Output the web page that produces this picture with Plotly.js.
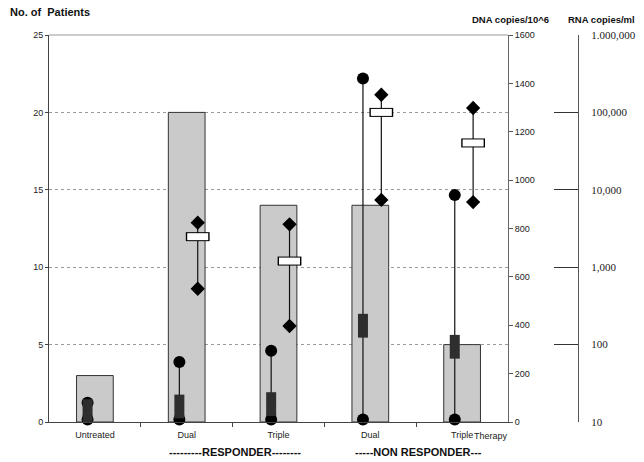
<!DOCTYPE html>
<html>
<head>
<meta charset="utf-8">
<script src="https://cdn.plot.ly/plotly-3.0.1.min.js"></script>
<style>
  html, body { margin: 0; padding: 0; background: #fff; }
  #chart { width: 644px; height: 462px; }
</style>
</head>
<body>
<div id="chart"></div>
<script>
(function () {
  'use strict';

  // --- Datos ---
  const categories = ['Untreated', 'Dual', 'Triple', 'Dual', 'Triple'];
  const patients   = [3, 20, 14, 14, 5];

  // DNA copies/10^6 (eje derecho lineal)
  const dnaMin    = [10, 10, 10, 10, 10];
  const dnaMax    = [80, 248, 295, 1420, 938];
  const dnaMedian = [45, 64, 74, 398, 311];

  // RNA copies/ml (eje log)
  const rnaMin    = [null, 527, 174, 7400, 6950];
  const rnaMax    = [null, 3760, 3580, 169000, 114000];
  const rnaMedian = [null, 2480, 1200, 100000, 40300];

  const rnaTickVals = [10, 100, 1000, 10000, 100000, 1000000];
  const rnaTickText = ['10', '100', '1,000', '10,000', '100,000', '1.000,000'];

  // --- Estilo ---
  const SANS = 'Liberation Sans';
  const SERIF = 'Liberation Serif';
  const DX_DNA = -0.08;   // desplazamiento de círculos/cuadros respecto a la barra
  const DX_RNA = 0.12;    // desplazamiento de rombos/óvalos
  const idx = categories.map((_, i) => i);

  // segmentos verticales min-max (con null como separador)
  function segments(dx, lo, hi) {
    const xs = [], ys = [];
    idx.forEach(i => {
      if (lo[i] == null || hi[i] == null) return;
      xs.push(i + dx, i + dx, null);
      ys.push(lo[i], hi[i], null);
    });
    return { xs, ys };
  }
  const dnaSeg = segments(DX_DNA, dnaMin, dnaMax);
  const rnaSeg = segments(DX_RNA, rnaMin, rnaMax);

  const traces = [
    {
      type: 'bar', x: idx, y: patients, width: 0.4,
      marker: { color: '#cacaca', line: { color: '#333', width: 1 } },
      hoverinfo: 'y'
    },
    // DNA: línea + círculos
    {
      type: 'scatter', mode: 'lines+markers', yaxis: 'y2',
      x: dnaSeg.xs, y: dnaSeg.ys, cliponaxis: false,
      line: { color: '#111', width: 1.2 },
      marker: { symbol: 'circle', size: 12, color: '#000' }
    },
    // DNA mediana: rectángulo oscuro
    {
      type: 'scatter', mode: 'markers', yaxis: 'y2', cliponaxis: false,
      x: idx.map(i => i + DX_DNA), y: dnaMedian,
      marker: { symbol: 'line-ns', size: 17, color: '#2e2e2e', line: { color: '#2e2e2e', width: 10 } }
    },
    // RNA: línea + rombos
    {
      type: 'scatter', mode: 'lines+markers', yaxis: 'y3',
      x: rnaSeg.xs, y: rnaSeg.ys, cliponaxis: false,
      line: { color: '#111', width: 1.2 },
      marker: { symbol: 'diamond', size: 11, color: '#000' }
    },
    // RNA mediana: óvalo blanco con borde
    {
      type: 'scatter', mode: 'markers', yaxis: 'y3', cliponaxis: false,
      x: idx.map(i => i + DX_RNA), y: rnaMedian,
      marker: { symbol: 'line-ew', size: 17, color: '#000', line: { color: '#000', width: 9 } }
    },
    {
      type: 'scatter', mode: 'markers', yaxis: 'y3', cliponaxis: false,
      x: idx.map(i => i + DX_RNA), y: rnaMedian,
      marker: { symbol: 'line-ew', size: 15, color: '#fff', line: { color: '#fff', width: 7 } }
    }
  ];

  const XD = 459 / 551;   // dominio del eje x dentro del área

  const layout = {
    width: 644, height: 462,
    margin: { l: 49, r: 44, t: 35, b: 40 },
    paper_bgcolor: '#fff', plot_bgcolor: '#fff',
    showlegend: false,
    font: { family: SANS, size: 9, color: '#222' },
    xaxis: {
      domain: [0, XD],
      range: [-0.5, 4.5],
      tickmode: 'array', tickvals: idx, ticktext: categories,
      ticks: '', showgrid: false, zeroline: false,
      showline: true, linecolor: '#444', linewidth: 1,
      ticklabelstandoff: 4,
      tickfont: { family: SANS, size: 9, color: '#222' },
      minor: { tickmode: 'array', tickvals: [0.5, 1.5, 2.5, 3.5], ticks: 'outside', ticklen: 4, tickcolor: '#444', showgrid: false }
    },
    yaxis: {
      range: [0, 25], dtick: 5,
      ticks: 'outside', ticklen: 3, tickcolor: '#444',
      showline: true, linecolor: '#444', linewidth: 1,
      showgrid: true, gridcolor: '#9a9a9a', griddash: 'dot', gridwidth: 1,
      zeroline: false,
      tickfont: { family: SANS, size: 9, color: '#222' }
    },
    yaxis2: {
      overlaying: 'y', side: 'right', anchor: 'x',
      range: [0, 1600], dtick: 200,
      ticks: 'outside', ticklen: 4, tickcolor: '#555',
      showline: true, linecolor: '#666', linewidth: 1,
      showgrid: false, zeroline: false,
      tickfont: { family: SANS, size: 9, color: '#222' }
    },
    yaxis3: {
      overlaying: 'y', side: 'right', anchor: 'free', position: (578 - 49) / 551,
      type: 'log', range: [1, 6],
      tickmode: 'array', tickvals: rnaTickVals, ticktext: rnaTickText,
      ticks: 'inside', ticklen: 24, tickcolor: '#333',
      showline: true, linecolor: '#555', linewidth: 1,
      showgrid: false, zeroline: false,
      ticklabelstandoff: 10,
      tickfont: { family: SERIF, size: 11, color: '#222' }
    },
    shapes: [{
      type: 'line', xref: 'x domain', yref: 'y domain',
      x0: 0, x1: 1, y0: 1, y1: 1,
      line: { color: '#9a9a9a', width: 1 }
    }],
    annotations: [
      { xref: 'paper', yref: 'paper', x: -0.0744, y: 1.0594, xanchor: 'left', yanchor: 'middle', showarrow: false,
        text: '<b>No. of  Patients</b>', font: { family: SANS, size: 11, color: '#111' } },
      { xref: 'paper', yref: 'paper', x: 0.8367, y: 1.0388, xanchor: 'center', yanchor: 'middle', showarrow: false,
        text: '<b>DNA copies/10^6</b>', font: { family: SANS, size: 9.5, color: '#111' } },
      { xref: 'paper', yref: 'paper', x: 1.0036, y: 1.0388, xanchor: 'center', yanchor: 'middle', showarrow: false,
        text: '<b>RNA copies/ml</b>', font: { family: SANS, size: 9.5, color: '#111' } },
      { xref: 'paper', yref: 'paper', x: 0.8367, y: -0.0362, xanchor: 'right', yanchor: 'middle', showarrow: false,
        text: 'Therapy', font: { family: SANS, size: 9, color: '#222' } },
      { xref: 'paper', yref: 'paper', x: 0.3376, y: -0.0775, xanchor: 'center', yanchor: 'middle', showarrow: false,
        text: '<b>---------RESPONDER--------</b>', font: { family: SANS, size: 11, color: '#111' } },
      { xref: 'paper', yref: 'paper', x: 0.6715, y: -0.0775, xanchor: 'center', yanchor: 'middle', showarrow: false,
        text: '<b>-----NON RESPONDER---</b>', font: { family: SANS, size: 11, color: '#111' } }
    ]
  };

  Plotly.newPlot('chart', traces, layout, { displayModeBar: false, staticPlot: true });
})();
</script>
</body>
</html>
